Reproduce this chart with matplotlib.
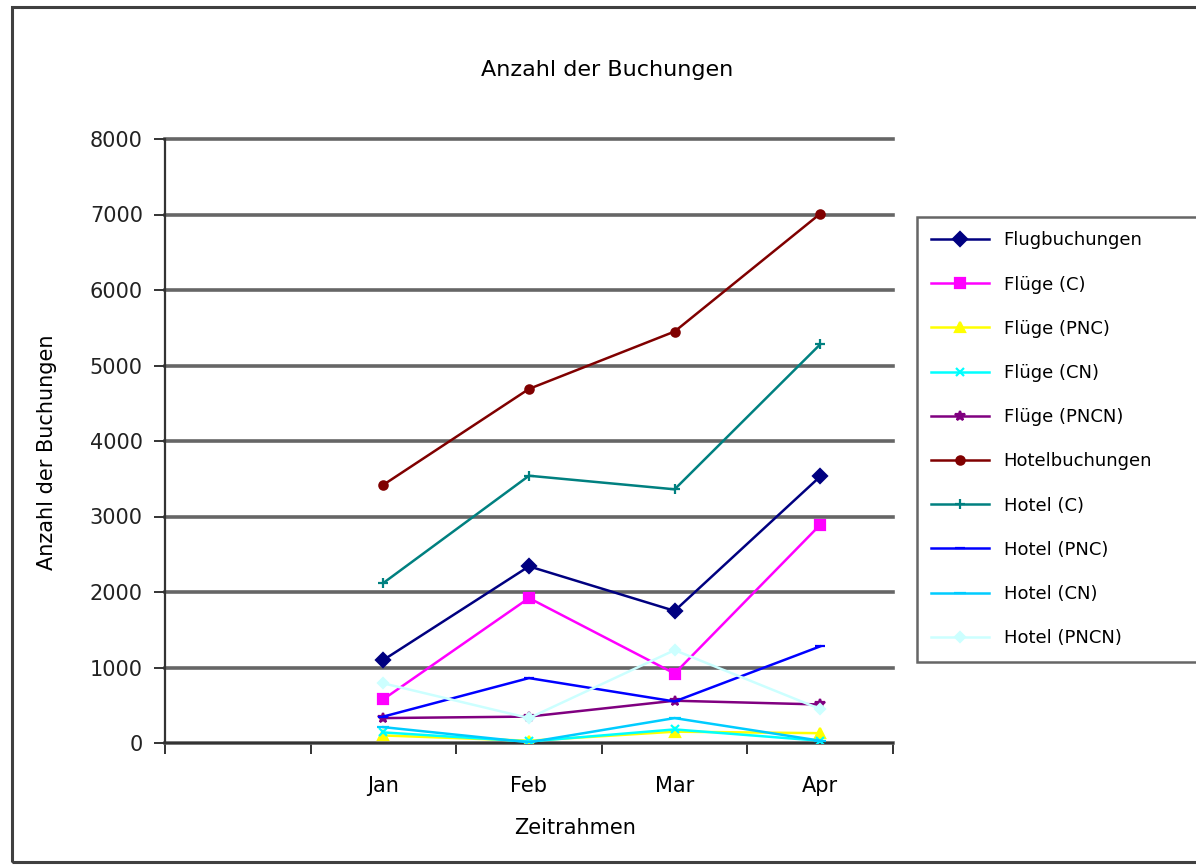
import matplotlib
matplotlib.use("Agg")
import matplotlib.pyplot as plt
from matplotlib.patches import Rectangle
from matplotlib.ticker import FixedLocator, NullFormatter

plt.rcParams["font.family"] = ["DejaVu Sans"]

# data (first category slot is empty)
months = ["", "Jan", "Feb", "Mar", "Apr"]
flugbuchungen = [1100, 2340, 1750, 3530]
fluege_c = [580, 1920, 920, 2890]
fluege_pnc = [100, 30, 150, 130]
fluege_cn = [140, 20, 180, 30]
fluege_pncn = [330, 350, 560, 510]
hotelbuchungen = [3420, 4690, 5450, 7010]
hotel_c = [2120, 3540, 3360, 5280]
hotel_pnc = [350, 860, 550, 1280]
hotel_cn = [210, 10, 330, 30]
hotel_pncn = [790, 330, 1230, 450]

series = [
    ("Flugbuchungen", flugbuchungen, "#000080", "D", 7),
    ("Flüge (C)", fluege_c, "#FF00FF", "s", 7),
    ("Flüge (PNC)", fluege_pnc, "#FFFF00", "^", 7),
    ("Flüge (CN)", fluege_cn, "#00FFFF", "x", 6),
    ("Flüge (PNCN)", fluege_pncn, "#800080", "*", 7),
    ("Hotelbuchungen", hotelbuchungen, "#800000", "o", 6),
    ("Hotel (C)", hotel_c, "#008080", "+", 7),
    ("Hotel (PNC)", hotel_pnc, "#0000FF", "_", 7),
    ("Hotel (CN)", hotel_cn, "#00CCFF", "_", 9),
    ("Hotel (PNCN)", hotel_pncn, "#CCFFFF", "D", 5),
]

W, H = 1196, 867
fig = plt.figure(figsize=(W / 100, H / 100), dpi=100)

# outer chart border
fig.patches.append(Rectangle((12 / W, 1 - 862 / H), 1.2, (862 - 7) / H,
                             transform=fig.transFigure, fill=False,
                             edgecolor="#404040", linewidth=2.2))

ax = fig.add_axes([165 / W, 1 - 743 / H, (893 - 165) / W, (743 - 139) / H])
xs = list(range(1, len(months)))
for name, vals, color, marker, ms in series:
    ax.plot(xs, vals, color=color, marker=marker, markersize=ms,
            linewidth=1.8, markeredgewidth=1.6, label=name, zorder=3)

ax.set_xlim(-0.5, len(months) - 0.5)
ax.set_ylim(0, 8000)
ax.set_yticks(range(0, 8001, 1000))
ax.yaxis.grid(True, color="#666666", linewidth=2.6)
ax.set_axisbelow(True)
for gl in ax.get_ygridlines():
    gl.set_clip_on(False)

ax.set_xticks(range(len(months)))
ax.set_xticklabels(months, fontsize=15)
ax.tick_params(axis="x", which="major", length=0, pad=24)
ax.xaxis.set_minor_locator(FixedLocator([i - 0.5 for i in range(len(months) + 1)]))
ax.xaxis.set_minor_formatter(NullFormatter())
ax.tick_params(axis="x", which="minor", length=8, width=1.4, color="#333333",
               direction="out")
ax.tick_params(axis="y", length=8, width=1.4, color="#333333", labelsize=15,
               pad=8, labelcolor="#222222")

for side in ["top", "right"]:
    ax.spines[side].set_visible(False)
for side in ["left", "bottom"]:
    ax.spines[side].set_color("#333333")
    ax.spines[side].set_linewidth(1.6)

ax.set_xlabel("Zeitrahmen", fontsize=15)
ax.xaxis.set_label_coords((575 - 165) / 728, (743 - 828) / 604)
ax.xaxis.label.set_va("center")
ax.set_ylabel("Anzahl der Buchungen", fontsize=15)
ax.yaxis.set_label_coords((47 - 165) / 728, (743 - 452) / 604)
ax.yaxis.label.set_va("center")
fig.text(607 / W, 1 - 70 / H, "Anzahl der Buchungen", fontsize=16,
         ha="center", va="center")

leg = fig.legend(loc="upper left",
                 bbox_to_anchor=(917 / W, 0.2, 0.3, 1 - 217 / H - 0.2),
                 mode="expand", fontsize=13, frameon=True, fancybox=False,
                 labelspacing=1.45, handlelength=3.2, handletextpad=0.8,
                 borderpad=0.8, borderaxespad=0)
leg.get_frame().set_edgecolor("#404040")
leg.get_frame().set_linewidth(1.8)

fig.savefig("out.png", dpi=100)
